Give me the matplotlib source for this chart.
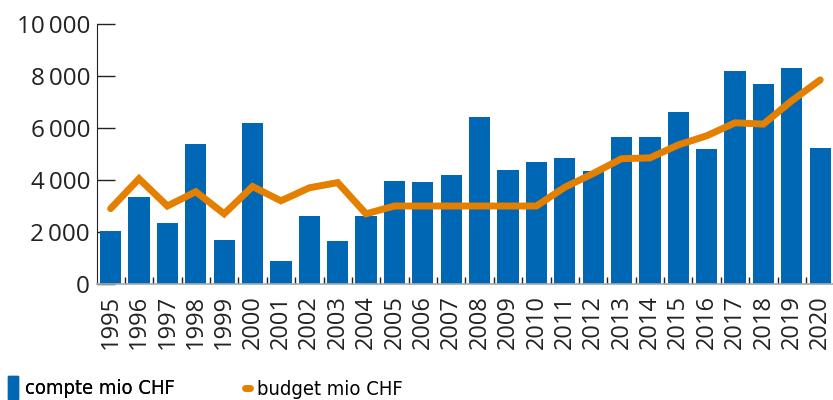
import numpy as np
import matplotlib.pyplot as plt
from matplotlib.patches import Patch
from matplotlib.lines import Line2D
from matplotlib.ticker import FuncFormatter, FixedLocator
from matplotlib.font_manager import FontProperties

plt.rcParams['font.family'] = ['Open Sans', 'DejaVu Sans']

years = [str(y) for y in range(1995, 2021)]
compte = [2050, 3330, 2330, 5400, 1680, 6200, 870, 2600, 1640, 2630,
          3980, 3940, 4200, 6440, 4370, 4710, 4860, 4330, 5670, 5670,
          6600, 5180, 8210, 7710, 8290, 5250]
budget = [2900, 4050, 3000, 3550, 2700, 3750, 3200, 3700, 3900, 2700,
          3000, 3000, 3000, 3000, 3000, 3000, 3720, 4250, 4820, 4850,
          5350, 5700, 6200, 6150, 7050, 7850]

blue = '#0067b4'
orange = '#e57f00'
ink = '#222222'

fig = plt.figure(figsize=(8.33, 4), dpi=100)
ax = fig.add_axes([97/833, 116/400, 736/833, 260/400])

x = np.arange(len(years))
ax.bar(x, compte, width=0.75, color=blue, zorder=2)
ax.plot(x, budget, color=orange, lw=5, solid_capstyle='round',
        solid_joinstyle='miter', zorder=3)

ax.set_xlim(-0.48, 25.45)
ax.set_ylim(0, 10000)
ax.set_yticks(range(0, 10001, 2000))
ax.yaxis.set_major_formatter(FuncFormatter(lambda v, p: f"{int(v):,}".replace(',', '\u2009')))
ax.tick_params(axis='y', direction='in', length=13, width=1, colors=ink,
               labelsize=17.5, pad=5)
ax.set_xticks(x)
ax.set_xticklabels(years, rotation=90, fontsize=17, color=ink)
ax.tick_params(axis='x', length=0, pad=8)
ax.xaxis.set_minor_locator(FixedLocator(x[:-1] + 0.5))
ax.tick_params(axis='x', which='minor', direction='in', length=5, width=1, colors=ink)

for s in ['top', 'right']:
    ax.spines[s].set_visible(False)
ax.spines['left'].set_color(ink)
ax.spines['bottom'].set_color('#aaaaaa')
ax.spines['bottom'].set_linewidth(1.2)

# legend below the plot, two separate entries
leg_font = FontProperties(family='DejaVu Sans', stretch='condensed', size=14.5)
leg1 = fig.legend(handles=[Patch(color=blue, label='compte mio CHF')],
                  loc='lower left', bbox_to_anchor=(8/833, 0.003), frameon=False,
                  prop=leg_font, handlelength=0.5, handleheight=1.4,
                  handletextpad=0.35, borderpad=0, borderaxespad=0)
fig.add_artist(leg1)
fig.legend(handles=[Line2D([], [], color=orange, lw=5, solid_capstyle='round',
                           label='budget mio CHF')],
           loc='lower left', bbox_to_anchor=(245/833, 0.003), frameon=False,
           prop=leg_font, handlelength=0.25, handletextpad=0.35,
           borderpad=0, borderaxespad=0)

fig.savefig('out.png', dpi=100)
